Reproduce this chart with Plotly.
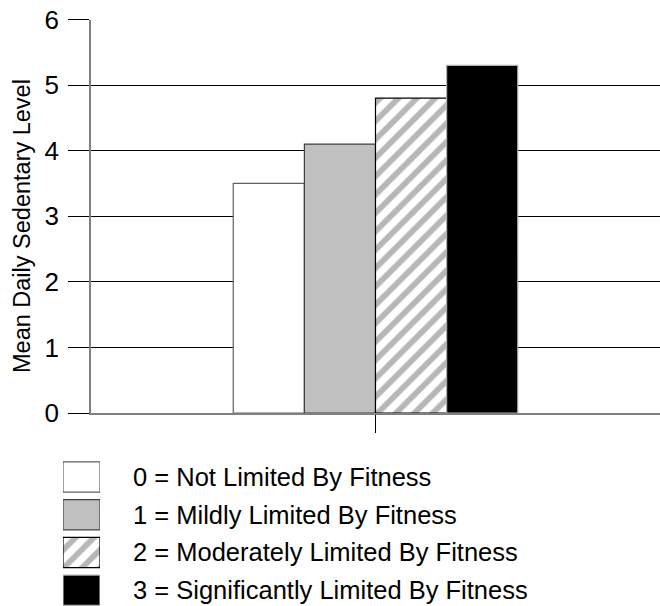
import plotly.graph_objects as go

# ---- data ----
category = ["All"]
series_names = [
    "0 = Not Limited By Fitness",
    "1 = Mildly Limited By Fitness",
    "2 = Moderately Limited By Fitness",
    "3 = Significantly Limited By Fitness",
]
series_values = [3.5, 4.1, 4.8, 5.3]
y_ticks = [0, 1, 2, 3, 4, 5, 6]
y_title = "Mean Daily Sedentary Level"

# ---- styles ----
fills = ["#FFFFFF", "#C0C0C0", "#FFFFFF", "#000000"]
patterns = ["", "", "/", ""]
edges = ["#606060", "#404040", "#000000", "#B0B0B0"]
FONT = "Liberation Sans, Arial, sans-serif"

W, H = 660, 606

fig = go.Figure()

for name, val, fc, pat, ec in zip(series_names, series_values, fills, patterns, edges):
    fig.add_trace(go.Bar(
        x=category, y=[val], name=name,
        marker=dict(color=fc, line=dict(color=ec, width=1.2),
                    pattern=dict(shape=pat, fgcolor="#707070", bgcolor=fc,
                                 size=13, solidity=0.45)),
        showlegend=False, xaxis="x", yaxis="y",
    ))

# legend swatches drawn as a small horizontal bar subplot
for name, fc, pat, ec in zip(series_names, fills, patterns, edges):
    fig.add_trace(go.Bar(
        y=[name], x=[1], orientation="h",
        marker=dict(color=fc, line=dict(color=ec, width=1.2),
                    pattern=dict(shape=pat, fgcolor="#707070", bgcolor=fc,
                                 size=13, solidity=0.45)),
        showlegend=False, xaxis="x2", yaxis="y2", width=0.8,
    ))

top_px, bot_px = 19.5, 413
leg_top_px = 458.2
row_px = 37.7
leg_bottom_range = -0.5 + (H - leg_top_px) / row_px

fig.update_layout(
    width=W, height=H,
    margin=dict(l=0, r=0, t=0, b=0, autoexpand=False),
    paper_bgcolor="white", plot_bgcolor="white",
    barmode="group", bargap=0.5, bargroupgap=0,
    font=dict(family=FONT, color="black"),
    xaxis=dict(domain=[91 / W, 1], anchor="y", showticklabels=False,
               ticks="outside", ticklen=18, tickcolor="black", tickwidth=1.3,
               showline=True, linecolor="#808080", linewidth=1.5,
               showgrid=False, zeroline=False, fixedrange=True,
               automargin=False),
    yaxis=dict(domain=[1 - bot_px / H, 1 - top_px / H], anchor="x",
               range=[0, 6], tickvals=y_ticks,
               ticks="outside", ticklen=21, tickcolor="black", tickwidth=1.3,
               tickfont=dict(size=26, family=FONT, color="black"),
               ticklabelstandoff=4,
               showgrid=True, gridcolor="black", gridwidth=1.3,
               showline=True, linecolor="#808080", linewidth=1.5,
               zeroline=False, automargin=False),
    xaxis2=dict(domain=[63 / W, 100 / W], anchor="y2", range=[0, 1],
                visible=False, fixedrange=True, automargin=False),
    yaxis2=dict(domain=[0, 1 - leg_top_px / H], anchor="x2",
                range=[leg_bottom_range, -0.5], side="right",
                categoryorder="array", categoryarray=series_names,
                showgrid=False, zeroline=False, showline=False, ticks="",
                ticklabelstandoff=32, automargin=False,
                tickfont=dict(size=25.5, family=FONT, color="black")),
    annotations=[dict(text=y_title, xref="paper", yref="paper",
                      x=22 / W, y=1 - 226 / H, textangle=-90,
                      showarrow=False, xanchor="center", yanchor="middle",
                      font=dict(size=23.5, family=FONT, color="black"))],
)

fig.write_html(
    "out.html",
    config={"displayModeBar": False},
    post_script="document.body.style.margin='0';document.body.style.overflow='hidden';",
)
